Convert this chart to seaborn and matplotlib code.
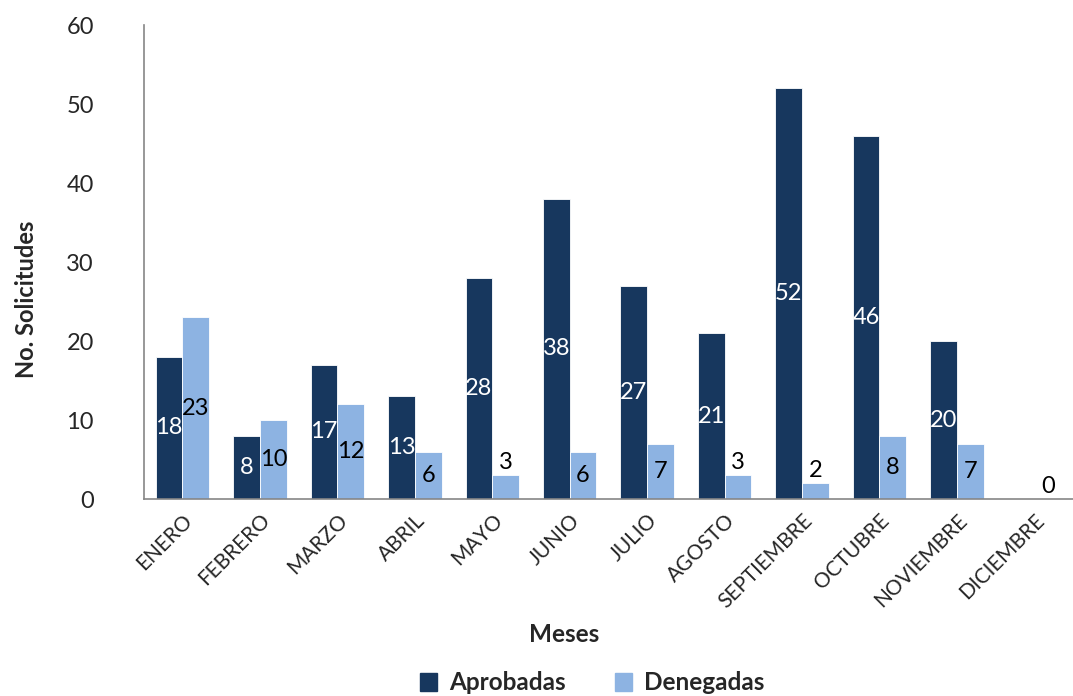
import pandas as pd
import matplotlib.pyplot as plt
import seaborn as sns

# Datos
meses = ['ENERO', 'FEBRERO', 'MARZO', 'ABRIL', 'MAYO', 'JUNIO', 'JULIO',
         'AGOSTO', 'SEPTIEMBRE', 'OCTUBRE', 'NOVIEMBRE', 'DICIEMBRE']
aprobadas = [18, 8, 17, 13, 28, 38, 27, 21, 52, 46, 20, 0]
denegadas = [23, 10, 12, 6, 3, 6, 7, 3, 2, 8, 7, 0]
series = ['Aprobadas', 'Denegadas']
colores = ['#17375E', '#8DB3E2']

df = pd.DataFrame({'mes': meses * 2,
                   'serie': [series[0]] * 12 + [series[1]] * 12,
                   'valor': aprobadas + denegadas})

sns.set_style('white')
plt.rcParams['font.family'] = ['Lato', 'DejaVu Sans']

fig = plt.figure(figsize=(10.73, 6.96), dpi=100)
ax = fig.add_axes([0.134, 0.283, 0.866, 0.681])

sns.barplot(data=df, x='mes', y='valor', hue='serie', palette=colores,
            width=0.69, ax=ax, legend=False, saturation=1,
            edgecolor='white', linewidth=0.6)

ax.set_ylim(0, 60)
ax.set_xlim(-0.5, 11.5)
ax.set_yticks(range(0, 61, 10))
ax.tick_params(axis='y', length=0, pad=36, labelsize=17)
ax.tick_params(axis='x', length=0, pad=8, labelsize=15)
plt.setp(ax.get_xticklabels(), rotation=45, ha='right', rotation_mode='anchor')
ax.set_xlabel('')
ax.set_ylabel('')

for s in ['top', 'right']:
    ax.spines[s].set_visible(False)
for s in ['left', 'bottom']:
    ax.spines[s].set_color('#868686')
    ax.spines[s].set_linewidth(1.2)

# Etiquetas de valores (la serie Aprobadas no muestra el 0)
for i, (cont, vals, col) in enumerate(zip(ax.containers, [aprobadas, denegadas], ['white', 'black'])):
    for bar, v in zip(cont, vals):
        xc = bar.get_x() + bar.get_width() / 2
        if v == 0 and i == 0:
            continue
        if v < 5:
            ax.text(xc, v + 0.3, str(v), ha='center', va='bottom',
                    color='black', fontsize=17)
        else:
            ax.text(xc, v / 2, str(v), ha='center', va='center',
                    color=col, fontsize=17)

fig.text(27 / 1073, 1 - 299 / 696, 'No. Solicitudes', rotation=90,
         ha='center', va='center', fontsize=17, fontweight='bold')
fig.text(564 / 1073, 1 - 634 / 696, 'Meses', ha='center', va='center',
         fontsize=17.5, fontweight='bold')

# Leyenda
handles = [plt.Rectangle((0, 0), 1, 1, color=c) for c in colores]
fig.legend(handles, series, loc='center', bbox_to_anchor=(0.552, 1 - 683 / 696),
           ncol=2, frameon=False, prop={'weight': 'bold', 'size': 17.5},
           handlelength=0.7, handleheight=0.7, columnspacing=2.0, handletextpad=0.5)

fig.savefig('out.png', dpi=100)
